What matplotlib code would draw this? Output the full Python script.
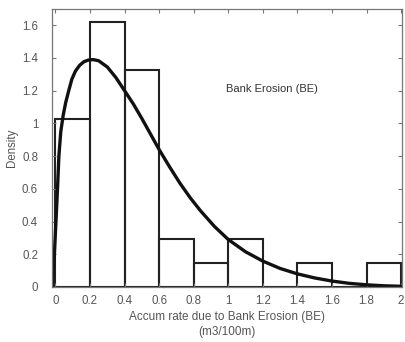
import matplotlib
matplotlib.use("Agg")
import matplotlib.pyplot as plt
import numpy as np

# histogram (density) of accumulation rate, bins of 0.2
bin_edges = [0.0, 0.2, 0.4, 0.6, 0.8, 1.0, 1.2, 1.4, 1.6, 1.8, 2.0]
bin_density = [1.029, 1.618, 1.324, 0.294, 0.147, 0.294, 0.0, 0.147, 0.0, 0.147]

# fitted density curve
curve_x = [-0.017, -0.006, 0.003, 0.012, 0.020, 0.031, 0.045, 0.060, 0.077,
           0.095, 0.116, 0.140, 0.165, 0.190, 0.218, 0.250, 0.300, 0.350,
           0.400, 0.450, 0.500, 0.550, 0.600, 0.660, 0.720, 0.780, 0.840,
           0.920, 1.000, 1.100, 1.200, 1.300, 1.400, 1.500, 1.600, 1.700,
           1.800, 1.900, 2.000]
curve_y = [0.00, 0.20, 0.40, 0.60, 0.80, 0.95, 1.05, 1.13, 1.20,
           1.27, 1.32, 1.355, 1.377, 1.387, 1.390, 1.383, 1.345, 1.28,
           1.20, 1.12, 1.03, 0.935, 0.84, 0.735, 0.635, 0.545, 0.465,
           0.37, 0.29, 0.215, 0.158, 0.113, 0.080, 0.055, 0.036, 0.022,
           0.013, 0.007, 0.004]

x_ticks = [0, 0.2, 0.4, 0.6, 0.8, 1.0, 1.2, 1.4, 1.6, 1.8, 2.0]
x_tick_labels = ["0", "0.2", "0.4", "0.6", "0.8", "1", "1.2", "1.4", "1.6", "1.8", "2"]
y_ticks = [0, 0.2, 0.4, 0.6, 0.8, 1.0, 1.2, 1.4, 1.6]
y_tick_labels = ["0", "0.2", "0.4", "0.6", "0.8", "1", "1.2", "1.4", "1.6"]

plt.rcParams["font.family"] = ["Liberation Sans", "DejaVu Sans"]

fig = plt.figure(figsize=(4.06, 3.42), dpi=100)
ax = fig.add_axes([0.128, 0.161, 0.862, 0.813])

widths = np.diff(bin_edges)
ax.bar(bin_edges[:-1], bin_density, width=widths, align="edge", fill=False,
       edgecolor="#222222", linewidth=1.5)
ax.plot(curve_x, curve_y, color="#111111", linewidth=2.4, solid_capstyle="round")

ax.set_xlim(-0.02, 2.005)
ax.set_ylim(0, 1.7)
ax.set_xticks(x_ticks)
ax.set_xticklabels(x_tick_labels)
ax.set_yticks(y_ticks)
ax.set_yticklabels(y_tick_labels)
ax.tick_params(direction="in", length=3, width=0.8, colors="#777777",
               labelcolor="#555555", labelsize=8.3, top=True, right=True)
ax.tick_params(axis="y", pad=10)
ax.tick_params(axis="x", pad=6)
for spine in ax.spines.values():
    spine.set_color("#777777")
    spine.set_linewidth(0.9)

ax.set_xlabel("Accum rate due to Bank Erosion (BE)\n(m3/100m)", fontsize=8.5,
              color="#555555", labelpad=3, linespacing=1.25)
ax.set_ylabel("Density", fontsize=8.3, color="#555555", labelpad=3)
ax.text(1.25, 1.21, "Bank Erosion (BE)", fontsize=8, color="#333333",
        ha="center", va="center")

fig.savefig("out.png", dpi=100, facecolor="white")
plt.close(fig)
